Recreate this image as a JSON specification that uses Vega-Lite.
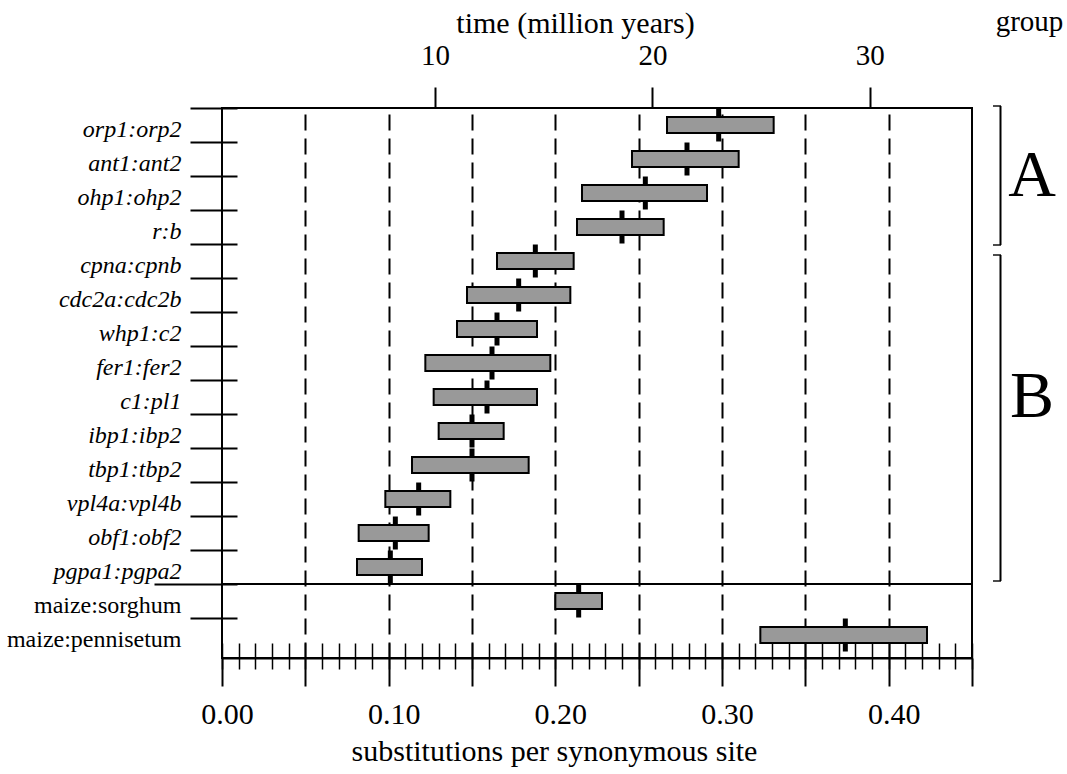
{
  "$schema": "https://vega.github.io/schema/vega-lite/v6.json",
  "width": 750,
  "height": 550,
  "autosize": {"type": "none"},
  "padding": {"left": 222, "top": 108, "right": 95, "bottom": 116},
  "background": "white",
  "config": {
    "view": {"stroke": "black", "strokeWidth": 2},
    "font": "Liberation Serif",
    "axis": {
      "labelFont": "Liberation Serif",
      "titleFont": "Liberation Serif",
      "labelColor": "black",
      "titleColor": "black",
      "tickColor": "black",
      "domainColor": "black",
      "titleFontWeight": "normal"
    }
  },
  "datasets": {
    "pairs": [
      {"pair": "orp1:orp2", "lo": 0.267, "hi": 0.331, "est": 0.298},
      {"pair": "ant1:ant2", "lo": 0.246, "hi": 0.310, "est": 0.279},
      {"pair": "ohp1:ohp2", "lo": 0.216, "hi": 0.291, "est": 0.254},
      {"pair": "r:b", "lo": 0.213, "hi": 0.265, "est": 0.240},
      {"pair": "cpna:cpnb", "lo": 0.165, "hi": 0.211, "est": 0.188},
      {"pair": "cdc2a:cdc2b", "lo": 0.147, "hi": 0.209, "est": 0.178},
      {"pair": "whp1:c2", "lo": 0.141, "hi": 0.189, "est": 0.165},
      {"pair": "fer1:fer2", "lo": 0.122, "hi": 0.197, "est": 0.162},
      {"pair": "c1:pl1", "lo": 0.127, "hi": 0.189, "est": 0.159},
      {"pair": "ibp1:ibp2", "lo": 0.130, "hi": 0.169, "est": 0.150},
      {"pair": "tbp1:tbp2", "lo": 0.114, "hi": 0.184, "est": 0.150},
      {"pair": "vpl4a:vpl4b", "lo": 0.098, "hi": 0.137, "est": 0.118},
      {"pair": "obf1:obf2", "lo": 0.082, "hi": 0.124, "est": 0.104},
      {"pair": "pgpa1:pgpa2", "lo": 0.081, "hi": 0.120, "est": 0.101},
      {"pair": "maize:sorghum", "lo": 0.200, "hi": 0.228, "est": 0.214},
      {"pair": "maize:pennisetum", "lo": 0.323, "hi": 0.423, "est": 0.374}
    ],
    "groups": [
      {"group": "A", "start": "orp1:orp2", "mid": "ohp1:ohp2", "end": "cpna:cpnb"},
      {"group": "B", "start": "cpna:cpnb", "mid": "c1:pl1", "end": "maize:sorghum"}
    ],
    "timeTicks": [{"time": 10}, {"time": 20}, {"time": 30}]
  },
  "resolve": {"scale": {"x": "independent"}, "axis": {"x": "independent", "y": "independent"}},
  "layer": [
    {
      "data": {"name": "pairs"},
      "mark": {"type": "tick", "color": "black", "size": 33, "thickness": 5, "opacity": 1},
      "encoding": {
        "x": {
          "field": "est", "type": "quantitative",
          "scale": {"domain": [0, 0.45], "nice": false, "zero": false},
          "axis": {
            "orient": "bottom",
            "values": [0, 0.01, 0.02, 0.03, 0.04, 0.05, 0.06, 0.07, 0.08, 0.09, 0.1, 0.11, 0.12, 0.13, 0.14, 0.15, 0.16, 0.17, 0.18, 0.19, 0.2, 0.21, 0.22, 0.23, 0.24, 0.25, 0.26, 0.27, 0.28, 0.29, 0.3, 0.31, 0.32, 0.33, 0.34, 0.35, 0.36, 0.37, 0.38, 0.39, 0.4, 0.41, 0.42, 0.43, 0.44, 0.45],
            "offset": -15, "tickSize": 26, "tickWidth": 1.5,
            "labels": false, "domain": false, "grid": false, "title": null
          }
        },
        "y": {
          "field": "pair", "type": "nominal",
          "scale": {"domain": ["orp1:orp2", "ant1:ant2", "ohp1:ohp2", "r:b", "cpna:cpnb", "cdc2a:cdc2b", "whp1:c2", "fer1:fer2", "c1:pl1", "ibp1:ibp2", "tbp1:tbp2", "vpl4a:vpl4b", "obf1:obf2", "pgpa1:pgpa2", "maize:sorghum", "maize:pennisetum"], "paddingInner": 0, "paddingOuter": 0.088, "align": 0},
          "axis": {
            "orient": "left", "ticks": false, "tickSize": 0, "domain": false,
            "labelPadding": 41, "labelFontSize": 24, "labelOffset": 5,
            "labelFontStyle": {"condition": {"test": "indexof(datum.value, 'maize') == 0", "value": "normal"}, "value": "italic"},
            "labelOverlap": false, "labelLimit": 300, "title": null
          }
        }
      }
    },
    {
      "data": {"name": "pairs"},
      "mark": {"type": "bar", "fill": "#999999", "stroke": "black", "strokeWidth": 2, "size": 16},
      "encoding": {
        "x": {
          "field": "lo", "type": "quantitative",
          "scale": {"domain": [0, 0.45], "nice": false, "zero": false},
          "axis": {
            "orient": "bottom",
            "values": [0, 0.05, 0.1, 0.15, 0.2, 0.25, 0.3, 0.35, 0.4, 0.45],
            "tickSize": 28, "tickWidth": 2, "domain": true, "domainWidth": 2,
            "labelExpr": "abs(datum.value * 10 - round(datum.value * 10)) < 0.001 ? format(datum.value, '.2f') : ''",
            "labelFontSize": 30, "labelPadding": 13, "labelOffset": 5, "labelFlush": false, "labelBound": false, "labelOverlap": false,
            "grid": true, "gridColor": "black", "gridWidth": 2, "gridDash": [16, 8],
            "gridOpacity": {"condition": {"test": "datum.value < 0.01 || datum.value > 0.44", "value": 0}, "value": 1},
            "title": "substitutions per synonymous site", "titleFontSize": 30, "titlePadding": 7, "titleX": 332
          }
        },
        "x2": {"field": "hi"},
        "y": {
          "field": "pair", "type": "nominal",
          "scale": {"domain": ["orp1:orp2", "ant1:ant2", "ohp1:ohp2", "r:b", "cpna:cpnb", "cdc2a:cdc2b", "whp1:c2", "fer1:fer2", "c1:pl1", "ibp1:ibp2", "tbp1:tbp2", "vpl4a:vpl4b", "obf1:obf2", "pgpa1:pgpa2", "maize:sorghum", "maize:pennisetum"], "paddingInner": 0, "paddingOuter": 0.088, "align": 0},
          "axis": {
            "orient": "left", "bandPosition": 0, "offset": -15,
            "tickSize": {"condition": {"test": "datum.value === 'maize:sorghum'", "value": 83}, "value": 47},
            "tickWidth": 2, "labels": false, "domain": false, "grid": false, "title": null
          }
        }
      }
    },
    {
      "data": {"name": "pairs"},
      "transform": [{"filter": "datum.pair === 'maize:sorghum'"}],
      "mark": {"type": "rule", "color": "black", "strokeWidth": 2},
      "encoding": {
        "y": {
          "field": "pair", "type": "nominal", "bandPosition": 0,
          "scale": {"domain": ["orp1:orp2", "ant1:ant2", "ohp1:ohp2", "r:b", "cpna:cpnb", "cdc2a:cdc2b", "whp1:c2", "fer1:fer2", "c1:pl1", "ibp1:ibp2", "tbp1:tbp2", "vpl4a:vpl4b", "obf1:obf2", "pgpa1:pgpa2", "maize:sorghum", "maize:pennisetum"], "paddingInner": 0, "paddingOuter": 0.088, "align": 0},
          "axis": null
        }
      }
    },
    {
      "data": {"name": "timeTicks"},
      "mark": {"type": "point", "opacity": 0},
      "encoding": {
        "x": {
          "field": "time", "type": "quantitative",
          "scale": {"domain": [0.2, 34.7], "nice": false, "zero": false},
          "axis": {
            "orient": "top", "values": [10, 20, 30], "format": "d",
            "tickSize": 21, "tickWidth": 2, "domain": false, "grid": false,
            "labelFontSize": 29, "labelPadding": 17, "labelFlush": false, "labelOverlap": false,
            "title": "time (million years)", "titleFontSize": 30, "titlePadding": 3, "titleX": 353
          }
        }
      }
    },
    {
      "data": {"name": "groups"},
      "mark": {"type": "rule", "color": "black", "strokeWidth": 2,
               "yOffset": {"expr": "datum.group === 'A' ? -2 : 11"},
               "y2Offset": {"expr": "datum.group === 'A' ? 1 : -3"}},
      "encoding": {
        "x": {"datum": 0.4671, "type": "quantitative", "scale": {"domain": [0, 0.45], "nice": false, "zero": false}, "axis": null},
        "y": {
          "field": "start", "type": "nominal", "bandPosition": 0,
          "scale": {"domain": ["orp1:orp2", "ant1:ant2", "ohp1:ohp2", "r:b", "cpna:cpnb", "cdc2a:cdc2b", "whp1:c2", "fer1:fer2", "c1:pl1", "ibp1:ibp2", "tbp1:tbp2", "vpl4a:vpl4b", "obf1:obf2", "pgpa1:pgpa2", "maize:sorghum", "maize:pennisetum"], "paddingInner": 0, "paddingOuter": 0.088, "align": 0},
          "axis": null
        },
        "y2": {"field": "end", "bandPosition": 0}
      }
    },
    {
      "data": {"name": "groups"},
      "mark": {"type": "tick", "orient": "horizontal", "color": "black", "size": 8, "thickness": 2,
               "yOffset": {"expr": "datum.group === 'A' ? -2 : 11"}},
      "encoding": {
        "x": {"datum": 0.4650, "type": "quantitative", "scale": {"domain": [0, 0.45], "nice": false, "zero": false}, "axis": null},
        "y": {
          "field": "start", "type": "nominal", "bandPosition": 0,
          "scale": {"domain": ["orp1:orp2", "ant1:ant2", "ohp1:ohp2", "r:b", "cpna:cpnb", "cdc2a:cdc2b", "whp1:c2", "fer1:fer2", "c1:pl1", "ibp1:ibp2", "tbp1:tbp2", "vpl4a:vpl4b", "obf1:obf2", "pgpa1:pgpa2", "maize:sorghum", "maize:pennisetum"], "paddingInner": 0, "paddingOuter": 0.088, "align": 0},
          "axis": null
        }
      }
    },
    {
      "data": {"name": "groups"},
      "mark": {"type": "tick", "orient": "horizontal", "color": "black", "size": 8, "thickness": 2,
               "yOffset": {"expr": "datum.group === 'A' ? 1 : -3"}},
      "encoding": {
        "x": {"datum": 0.4650, "type": "quantitative", "scale": {"domain": [0, 0.45], "nice": false, "zero": false}, "axis": null},
        "y": {
          "field": "end", "type": "nominal", "bandPosition": 0,
          "scale": {"domain": ["orp1:orp2", "ant1:ant2", "ohp1:ohp2", "r:b", "cpna:cpnb", "cdc2a:cdc2b", "whp1:c2", "fer1:fer2", "c1:pl1", "ibp1:ibp2", "tbp1:tbp2", "vpl4a:vpl4b", "obf1:obf2", "pgpa1:pgpa2", "maize:sorghum", "maize:pennisetum"], "paddingInner": 0, "paddingOuter": 0.088, "align": 0},
          "axis": null
        }
      }
    },
    {
      "data": {"name": "groups"},
      "mark": {"type": "text", "color": "black", "fontSize": 66, "font": "Liberation Serif", "align": "center", "baseline": "middle",
               "dy": {"expr": "datum.group === 'A' ? 0 : 17"}},
      "encoding": {
        "x": {
          "datum": 0.486, "type": "quantitative", "scale": {"domain": [0, 0.45], "nice": false, "zero": false},
          "axis": {
            "orient": "top", "ticks": false, "labels": false, "domain": false, "grid": false,
            "title": "group", "titleFontSize": 29, "titleX": 807, "titleY": -78,
            "titleBaseline": "alphabetic", "titleAlign": "center", "titleAngle": 0
          }
        },
        "y": {
          "field": "mid", "type": "nominal", "bandPosition": 0,
          "scale": {"domain": ["orp1:orp2", "ant1:ant2", "ohp1:ohp2", "r:b", "cpna:cpnb", "cdc2a:cdc2b", "whp1:c2", "fer1:fer2", "c1:pl1", "ibp1:ibp2", "tbp1:tbp2", "vpl4a:vpl4b", "obf1:obf2", "pgpa1:pgpa2", "maize:sorghum", "maize:pennisetum"], "paddingInner": 0, "paddingOuter": 0.088, "align": 0},
          "axis": null
        },
        "text": {"field": "group"}
      }
    }
  ]
}
